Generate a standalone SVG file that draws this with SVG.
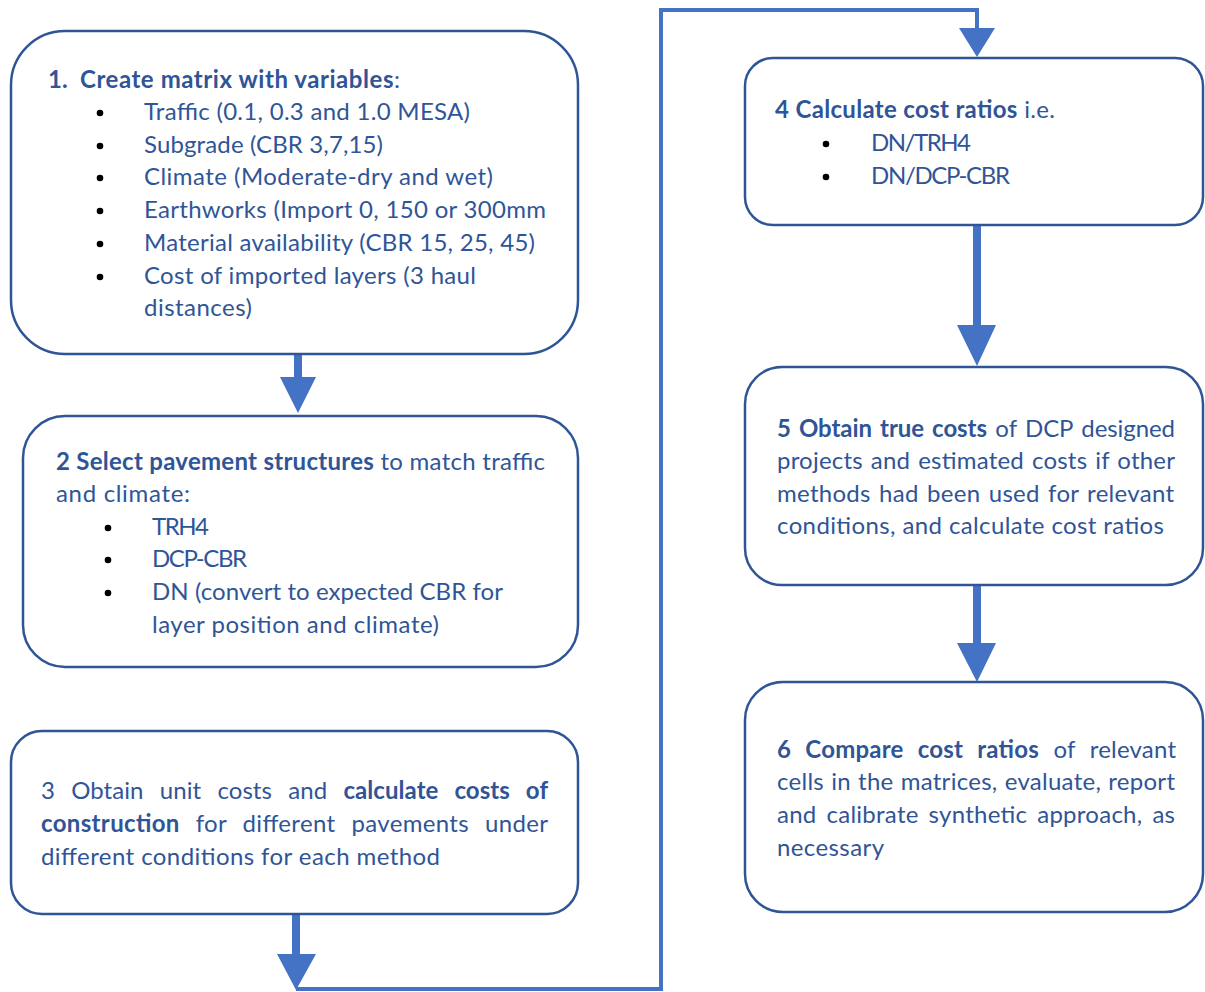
<svg xmlns="http://www.w3.org/2000/svg" width="1205" height="992" viewBox="0 0 1205 992">
<style>
.box{fill:#FFFFFF;stroke:#2F5597;stroke-width:2.5}
.t{font-family:Lato,"Liberation Sans",sans-serif;font-size:24px;fill:#2F5597}
.b{font-weight:bold}
.dot{fill:#000000}
.arr{fill:#4472C4}
.ln{fill:none;stroke:#4472C4;stroke-width:4}
</style>
<rect width="1205" height="992" fill="#FFFFFF"/>
<g id="connectors">
  <polygon class="arr" points="294,354 302,354 302,377 316,377 298,413 280,377 294,377"/>
  <polygon class="arr" points="292,914 300,914 300,954 316,954 296,990 277,954 292,954"/>
  <polyline class="ln" points="296,989 661,989 661,10 977,10 977,30"/>
  <polygon class="arr" points="959,28 995,28 977,57"/>
  <polygon class="arr" points="973,225 981,225 981,325 996,325 977,366 957,325 973,325"/>
  <polygon class="arr" points="973,585 981,585 981,643 996,643 977,682 957,643 973,643"/>
</g>
<g id="node1">
  <rect class="box" x="11" y="31" width="567" height="323" rx="54"/>
  <text class="t b" x="48" y="88">1.</text>
  <text class="t" x="80" y="88" textLength="320" lengthAdjust="spacing"><tspan class="b">Create matrix with variables</tspan>:</text>
  <circle class="dot" cx="100" cy="113" r="3.3"/>
  <circle class="dot" cx="100" cy="146" r="3.3"/>
  <circle class="dot" cx="100" cy="178" r="3.3"/>
  <circle class="dot" cx="100" cy="211" r="3.3"/>
  <circle class="dot" cx="100" cy="244" r="3.3"/>
  <circle class="dot" cx="100" cy="277" r="3.3"/>
  <text class="t" x="144" y="120" textLength="326" lengthAdjust="spacing">Traffic (0.1, 0.3 and 1.0 MESA)</text>
  <text class="t" x="144" y="153" textLength="239" lengthAdjust="spacing">Subgrade (CBR 3,7,15)</text>
  <text class="t" x="144" y="185" textLength="349" lengthAdjust="spacing">Climate (Moderate-dry and wet)</text>
  <text class="t" x="144" y="218" textLength="402" lengthAdjust="spacing">Earthworks (Import 0, 150 or 300mm</text>
  <text class="t" x="144" y="251" textLength="391" lengthAdjust="spacing">Material availability (CBR 15, 25, 45)</text>
  <text class="t" x="144" y="284" textLength="332" lengthAdjust="spacing">Cost of imported layers (3 haul</text>
  <text class="t" x="144" y="316" textLength="108" lengthAdjust="spacing">distances)</text>
</g>
<g id="node2">
  <rect class="box" x="23" y="416" width="555" height="251" rx="42"/>
  <text class="t" x="56" y="470" textLength="489" lengthAdjust="spacing"><tspan class="b">2 Select pavement structures</tspan> to match traffic</text>
  <text class="t" x="56" y="502" textLength="134" lengthAdjust="spacing">and climate:</text>
  <circle class="dot" cx="108" cy="528" r="3.3"/>
  <circle class="dot" cx="108" cy="560" r="3.3"/>
  <circle class="dot" cx="108" cy="593" r="3.3"/>
  <text class="t" x="152" y="535" textLength="57" lengthAdjust="spacing">TRH4</text>
  <text class="t" x="152" y="567" textLength="95" lengthAdjust="spacing">DCP-CBR</text>
  <text class="t" x="152" y="600" textLength="351" lengthAdjust="spacing">DN (convert to expected CBR for</text>
  <text class="t" x="152" y="633" textLength="287" lengthAdjust="spacing">layer position and climate)</text>
</g>
<g id="node3">
  <rect class="box" x="11" y="731" width="567" height="183" rx="31"/>
  <text class="t" x="41" y="799" word-spacing="10" textLength="507" lengthAdjust="spacing">3 Obtain unit costs and <tspan class="b">calculate costs of</tspan></text>
  <text class="t" x="41" y="832" word-spacing="9.5" textLength="507" lengthAdjust="spacing"><tspan class="b">construction</tspan> for different pavements under</text>
  <text class="t" x="41" y="865" textLength="399" lengthAdjust="spacing">different conditions for each method</text>
</g>
<g id="node4">
  <rect class="box" x="745" y="58" width="458" height="167" rx="28"/>
  <text class="t" x="775" y="118" textLength="280" lengthAdjust="spacing"><tspan class="b">4 Calculate cost ratios</tspan> i.e.</text>
  <circle class="dot" cx="826" cy="144" r="3.3"/>
  <circle class="dot" cx="826" cy="177" r="3.3"/>
  <text class="t" x="871" y="151" textLength="100" lengthAdjust="spacing">DN/TRH4</text>
  <text class="t" x="871" y="184" textLength="139" lengthAdjust="spacing">DN/DCP-CBR</text>
</g>
<g id="node5">
  <rect class="box" x="745" y="367" width="458" height="218" rx="37"/>
  <text class="t" x="777" y="437" word-spacing="2.4" textLength="398" lengthAdjust="spacing"><tspan class="b">5 Obtain true costs</tspan> of DCP designed</text>
  <text class="t" x="777" y="469" word-spacing="1.6" textLength="398" lengthAdjust="spacing">projects and estimated costs if other</text>
  <text class="t" x="777" y="502" word-spacing="1.9" textLength="397" lengthAdjust="spacing">methods had been used for relevant</text>
  <text class="t" x="777" y="534" textLength="387" lengthAdjust="spacing">conditions, and calculate cost ratios</text>
</g>
<g id="node6">
  <rect class="box" x="745" y="682" width="458" height="230" rx="38"/>
  <text class="t" x="777" y="758" word-spacing="8.2" textLength="399" lengthAdjust="spacing"><tspan class="b">6 Compare cost ratios</tspan> of relevant</text>
  <text class="t" x="777" y="790" word-spacing="0.7" textLength="398" lengthAdjust="spacing">cells in the matrices, evaluate, report</text>
  <text class="t" x="777" y="823" word-spacing="3.5" textLength="398" lengthAdjust="spacing">and calibrate synthetic approach, as</text>
  <text class="t" x="777" y="856" textLength="107" lengthAdjust="spacing">necessary</text>
</g>
</svg>
